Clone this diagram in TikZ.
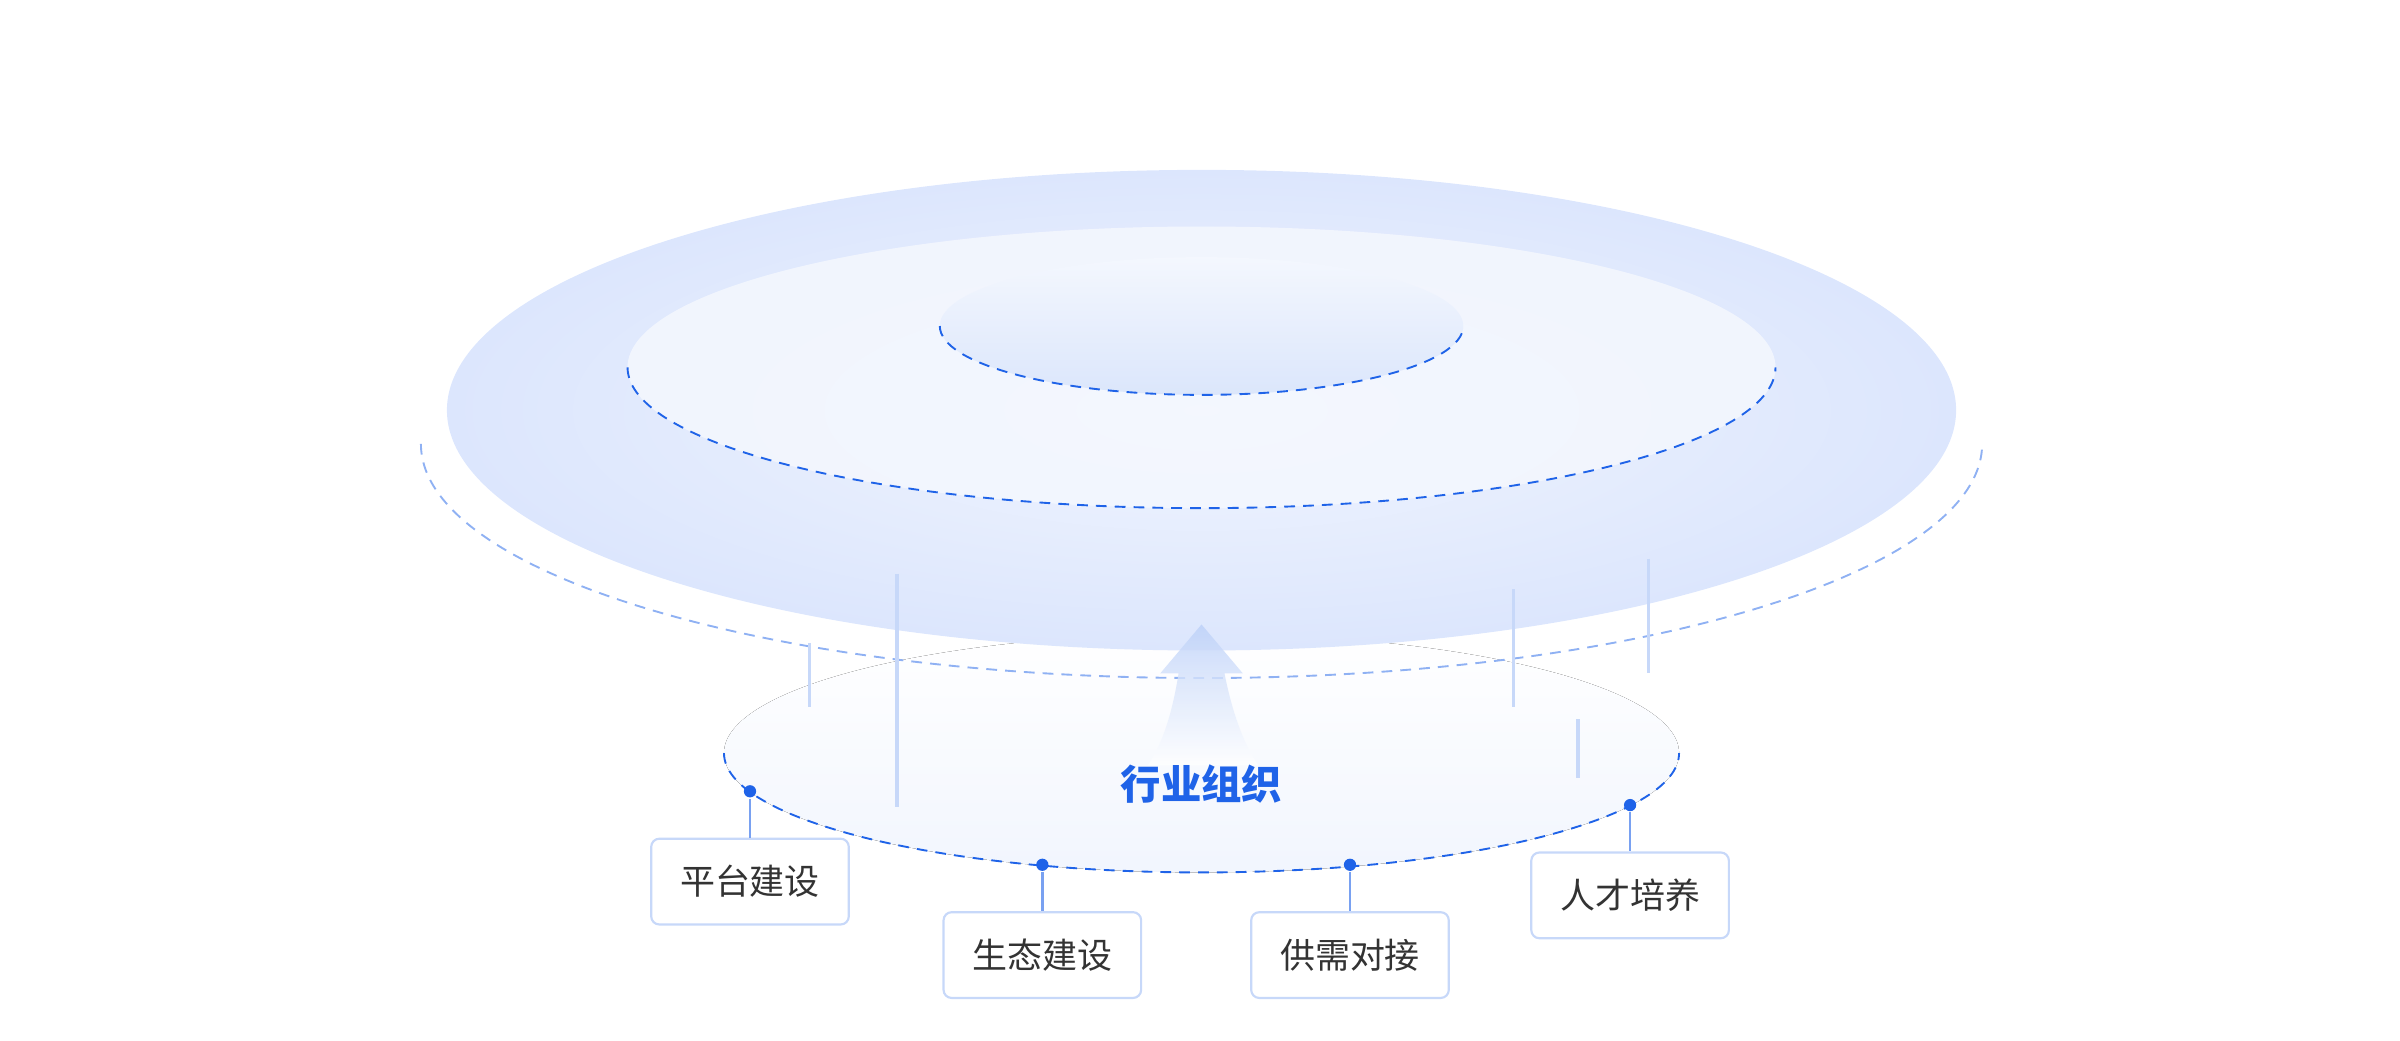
\documentclass[tikz,border=0pt]{standalone}
\usepackage{fontspec}
\newfontfamily\cjk{Noto Sans CJK SC}
\usetikzlibrary{shapes.geometric}
\definecolor{bl}{HTML}{1F63E8}
\definecolor{lb}{HTML}{DCE6FD}
\definecolor{pc}{HTML}{F1F5FE}
\definecolor{txt}{HTML}{333333}
\begin{document}
\begin{tikzpicture}[x=0.01cm,y=-0.01cm,
 dsh/.style={draw=bl,dash pattern=on 2pt off 1.5pt,line width=0.35pt},
 vl/.style={draw=bl!25,line width=0.6pt},
 box/.style={draw=bl!25,fill=white,rounded corners=1.5pt,line width=0.4pt,minimum width=1.29cm,minimum height=0.56cm,font=\cjk\fontsize{6.5}{7}\selectfont,text=txt},
 pin/.style={fill=bl,circle,inner sep=0pt,minimum size=0.08cm}]
\useasboundingbox (0,0) rectangle (1568,680);
% lower ellipse
\fill[top color=white,bottom color=bl!6] (785,492) ellipse [x radius=312,y radius=78];
\draw[dsh] (473,492) arc[start angle=180,end angle=0,x radius=312,y radius=78];
% outer dashed ellipse
\draw[dsh,draw=bl!50] (275,290) arc[start angle=180,end angle=0,x radius=510,y radius=153];
% big ellipse
\shade[inner color=pc,outer color=lb] (785,268) ellipse [x radius=493,y radius=157];
\fill[pc,opacity=0.6] (785,240) ellipse [x radius=375,y radius=92];
\fill[bl!4,opacity=0.6] (785,240) ellipse [x radius=375,y radius=92];
\draw[dsh] (410,240) arc[start angle=180,end angle=0,x radius=375,y radius=92];
\shade[top color=bl!5,bottom color=bl!16] (785,213) ellipse [x radius=171,y radius=45];
\draw[dsh] (614,213) arc[start angle=180,end angle=0,x radius=171,y radius=45];
% vertical lines
\draw[vl] (529,420)--(529,462);
\draw[vl] (586,375)--(586,527);
\draw[vl] (989,385)--(989,462);
\draw[vl] (1077,365)--(1077,440);
\draw[vl] (1031,470)--(1031,508);
% arrow
\shade[top color=bl!30,bottom color=white,opacity=0.8] (785,408)--(812,440)--(800,440) .. controls (805,465) and (812,485) .. (822,500) -- (750,500) .. controls (760,485) and (766,465) .. (770,440) -- (758,440) -- cycle;
\node[font=\cjk\bfseries\fontsize{7.5}{8}\selectfont,text=bl] (c) at (785,512) {行业组织};
% pins & boxes
\node[box] (b1) at (490,576) {平台建设};
\node[box] (b2) at (681,624) {生态建设};
\node[box] (b3) at (882,624) {供需对接};
\node[box] (b4) at (1065,585) {人才培养};
\node[pin] (p1) at (490,517) {};
\node[pin] (p2) at (681,565) {};
\node[pin] (p3) at (882,565) {};
\node[pin] (p4) at (1065,526) {};
\foreach \i in {1,2,3,4}{\draw[bl!60,line width=0.5pt] (p\i)--(b\i.north);}
\end{tikzpicture}
\end{document}
